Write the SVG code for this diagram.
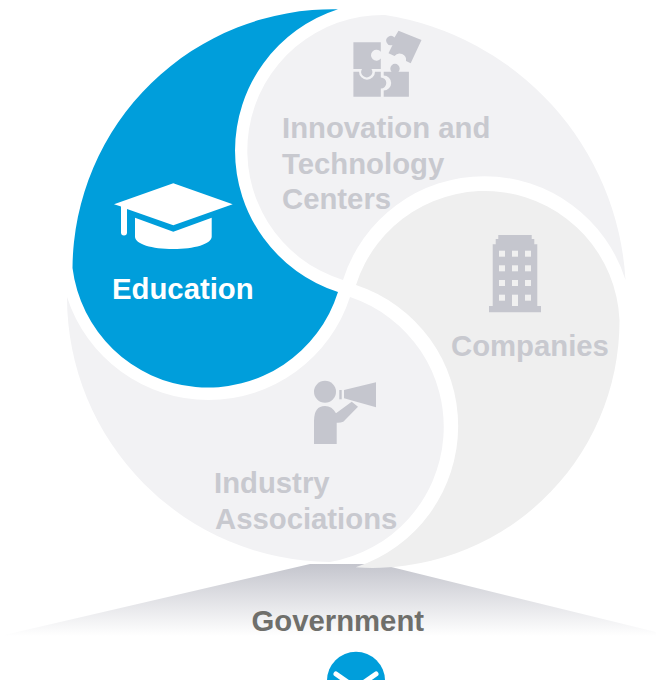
<svg xmlns="http://www.w3.org/2000/svg" width="656" height="680" viewBox="0 0 656 680">
<style>
text{font-family:"Liberation Sans",Arial,sans-serif;font-weight:700;font-size:29.3px}
.t{fill:#c8c9cf}
.i{fill:#c5c6ce}
.win{fill:#f0f0f0}
</style>
<defs>
<linearGradient id="wedge" x1="0" y1="564" x2="0" y2="636" gradientUnits="userSpaceOnUse">
<stop offset="0" stop-color="#c4c5cd"/><stop offset="1" stop-color="#ffffff"/>
</linearGradient>
</defs>
<rect width="656" height="680" fill="#ffffff"/>
<g id="government">
<polygon points="0,636 310,564 379,564 656,632 656,636" fill="url(#wedge)"/>
<text x="251.5" y="630.5" fill="#6f6f6b">Government</text>
</g>
<g id="innovation">
<path d="M385,15 A285 285 0 0 1 625.5,280 A148 148 0 0 0 343,280 A135.5 135.5 0 0 1 385,15 Z" fill="#f2f2f4"/>
<g class="i">
<path d="M353.4,42.3 H380.8 V51.8 A5.5,5.5 0 1 0 380.8,58.6 V69 H371.5 A5.5,5.5 0 1 1 362,69 H353.4 Z"/>
<path d="M353.4,71.7 H359 A8,8 0 0 0 375,71.7 H380.8 V77.5 A5.5,5.5 0 1 1 380.8,88.5 V96.7 H353.4 Z"/>
<path d="M383.7,71.7 H391.5 A4.7,4.7 0 1 1 398.5,71.7 H408.9 V96.7 H383.7 V90.5 A7.5,7.5 0 0 0 383.7,75.5 Z"/>
<path d="M398.5,30.7 L421.5,40 L410.7,63.3 L406,61 A6.5,6.5 0 0 0 394.5,56 L388.5,53.3 L392.5,45 A4.7,4.7 0 1 1 394.5,37.5 Z"/>
</g>
<text class="t" x="282" y="138">Innovation and</text>
<text class="t" x="282" y="173.5">Technology</text>
<text class="t" x="282" y="209">Centers</text>
</g>
<g id="companies">
<path d="M356,285 A135 135 0 0 1 619.5,320 A247 247 0 0 1 355.6,567.3 A148.5 148.5 0 0 0 356,285 Z" fill="#efefef"/>
<path class="i" d="M498.3,235 H531.7 V239 H534.3 V244.3 H537.3 V306 H541 V312.3 H489 V306 H492.7 V244.3 H495.7 V239 H498.3 Z"/>
<g class="win">
<rect x="499" y="250.7" width="6" height="6"/><rect x="512" y="250.7" width="6" height="6"/><rect x="525" y="250.7" width="6" height="6"/>
<rect x="499" y="265.3" width="6" height="6"/><rect x="512" y="265.3" width="6" height="6"/><rect x="525" y="265.3" width="6" height="6"/>
<rect x="499" y="280" width="6" height="6"/><rect x="512" y="280" width="6" height="6"/><rect x="525" y="280" width="6" height="6"/>
<rect x="499" y="294.7" width="6" height="6"/><rect x="512" y="294.7" width="6" height="11.3"/><rect x="525" y="294.7" width="6" height="6"/>
</g>
<text class="t" x="451" y="356">Companies</text>
</g>
<g id="industry">
<path d="M67,297 A265 265 0 0 0 330,562 A137 137 0 0 0 350,297 A148.7 148.7 0 0 1 67,297 Z" fill="#f2f2f4"/>
<g class="i">
<circle cx="325" cy="391.7" r="11"/>
<path d="M314,444 V421 Q314,406 325,406 Q332,406 336,413.3 L351.7,401.7 L358,406.7 L343.3,421.7 Q340,423 336.7,422.7 V444 Z"/>
<path d="M344,390 L376,382.3 V407.3 L344,398.3 Z"/>
<rect x="339.3" y="390" width="2.4" height="9.3"/>
</g>
<text class="t" x="214" y="493">Industry</text>
<text class="t" x="215" y="529">Associations</text>
</g>
<g id="education">
<path d="M338,9.3 A260.5 260.5 0 0 0 72.5,268 A136.4 136.4 0 0 0 338,292 A148.5 148.5 0 0 1 338,9.3 Z" fill="#009edb"/>
<g fill="#ffffff">
<path d="M173.3,183.3 L232.7,204.3 L173.3,225.3 L127,209 V232.5 A2.9,2.9 0 0 1 121,232.5 V206.6 L114,204.3 Z"/>
<path d="M135,217.7 L173.3,231.7 L211.7,217.7 V236.7 C211.7,244 194,249 173.3,249 C152,249 135,244 135,236.7 Z"/>
</g>
<text x="112" y="299" fill="#ffffff">Education</text>
</g>
<g id="more">
<circle cx="356" cy="680.7" r="29" fill="#009edb"/>
<path d="M336,674 L356,688 L376,674" fill="none" stroke="#ffffff" stroke-width="5" stroke-linecap="round"/>
</g>
<g id="connectors"></g>
</svg>
